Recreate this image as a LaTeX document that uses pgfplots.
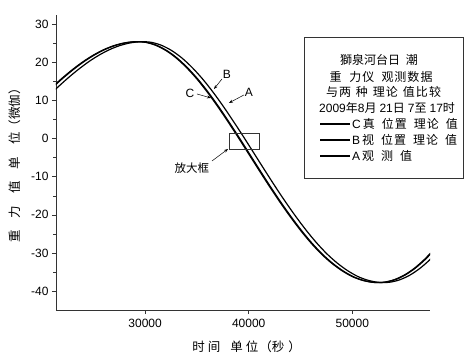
\documentclass[border=0pt]{standalone}
\usepackage{fontspec}
\setmainfont{Liberation Sans}
\newfontfamily\cjk{Noto Sans CJK SC}
\usepackage{pgfplots}
\usepackage{pgfplotstable}
\pgfplotsset{compat=1.18}
\usetikzlibrary{calc,arrows.meta}

% C: true-position theory, B: apparent-position theory, A: observed
\pgfplotstableread{
t y
20000 10.92
21000 13.48
22000 15.93
23000 18.18
24000 20.21
25000 21.95
26000 23.38
27000 24.46
28000 25.16
29000 25.48
30000 25.34
31000 24.57
32000 23.18
33000 21.21
34000 18.68
35000 15.69
36000 12.26
37000 8.49
38000 4.46
39000 0.29
40000 -4.00
41000 -8.29
42000 -12.52
43000 -16.59
44000 -20.45
45000 -24.06
46000 -27.35
47000 -30.25
48000 -32.68
49000 -34.67
50000 -36.22
51000 -37.22
52000 -37.74
53000 -37.72
54000 -37.09
55000 -35.85
56000 -34.01
57000 -31.62
58000 -28.72
}\tabC

\pgfplotstableread{
t y
20080 10.92
21080 13.48
22080 15.93
23080 18.18
24080 20.21
25080 21.95
26080 23.38
27080 24.46
28080 25.16
29080 25.48
30080 25.34
31080 24.57
32080 23.18
33080 21.21
34080 18.68
35080 15.69
36080 12.26
37080 8.49
38080 4.46
39080 0.29
40080 -4.00
41080 -8.29
42080 -12.52
43080 -16.59
44080 -20.45
45080 -24.06
46080 -27.35
47080 -30.25
48080 -32.68
49080 -34.67
50080 -36.22
51080 -37.22
52080 -37.74
53080 -37.72
54080 -37.09
55080 -35.85
56080 -34.01
57080 -31.62
58080 -28.72
}\tabB

\pgfplotstableread{
t y
20550 10.92
21550 13.48
22550 15.93
23550 18.18
24550 20.21
25550 21.95
26550 23.38
27550 24.46
28550 25.16
29550 25.48
30550 25.34
31550 24.57
32550 23.18
33550 21.21
34550 18.68
35550 15.69
36550 12.26
37550 8.49
38550 4.46
39550 0.29
40550 -4.00
41550 -8.29
42550 -12.52
43550 -16.59
44550 -20.45
45550 -24.06
46550 -27.35
47550 -30.25
48550 -32.68
49550 -34.67
50550 -36.22
51550 -37.22
52550 -37.74
53550 -37.72
54550 -37.09
55550 -35.85
56550 -34.01
57550 -31.62
58550 -28.72
}\tabA

\begin{document}
\begin{tikzpicture}
\begin{axis}[
    scale only axis,
    width=374pt,
    height=295pt,
    xmin=21400, xmax=57500,
    ymin=-45, ymax=32.5,
    axis x line*=bottom,
    axis y line*=left,
    axis line style={draw=black!80, line width=0.8pt},
    xtick={30000,40000,50000},
    ytick={-40,-30,...,30},
    minor y tick num=1,
    scaled x ticks=false,
    xticklabel style={/pgf/number format/set thousands separator={}, yshift=-2pt},
    tick align=outside,
    major tick length=4pt,
    minor tick length=2.5pt,
    tick style={draw=black!80, line width=0.6pt},
    tick label style={font=\fontsize{12}{14}\selectfont},
    /pgf/number format/assume math mode=true,
    xlabel={\cjk 时\hspace{3pt}间\hspace{10pt}单\hspace{3pt}位\hspace{1pt}（秒\hspace{4pt}）},
    ylabel={\cjk 重\hspace{12pt}力\hspace{12pt}值\hspace{12pt}单\hspace{12pt}位（微伽）},
    xlabel style={at={(axis description cs:0.51,0)}, anchor=center, yshift=-37pt, font=\fontsize{12.5}{14}\selectfont},
    ylabel style={at={(axis description cs:-0.1096,0.5)}, anchor=center, font=\fontsize{12.5}{14}\selectfont},
    clip mode=individual,
]
\addplot[black, line width=1.2pt, smooth] table {\tabC};
\addplot[black, line width=1.2pt, smooth] table {\tabB};
\addplot[black, line width=1.2pt, smooth] table {\tabA};

% labels with arrows
\node[font=\fontsize{12}{14}\selectfont] at (axis cs:34334,12.0) {C};
\draw[-{Stealth[length=4pt,width=3pt]}, line width=0.5pt] (axis cs:35009,11.75) -- (axis cs:36361,10.7);
\node[font=\fontsize{12}{14}\selectfont] at (axis cs:37905,17.0) {B};
\draw[-{Stealth[length=4pt,width=3pt]}, line width=0.5pt] (axis cs:37423,15.7) -- (axis cs:36650,13.07);
\node[font=\fontsize{12}{14}\selectfont] at (axis cs:40028,12.28) {A};
\draw[-{Stealth[length=4pt,width=3pt]}, line width=0.5pt] (axis cs:39546,11.5) -- (axis cs:38098,9.4);

% magnifier box
\draw[line width=0.6pt, black!80] (axis cs:38098,1.5) rectangle (axis cs:40994,-2.7);
\node[font=\cjk\fontsize{11.5}{14}\selectfont] at (axis cs:34527,-7.7) {放大框};
\draw[-{Stealth[length=4pt,width=3pt]}, line width=0.5pt] (axis cs:36457,-5.85) -- (axis cs:38001,-2.7);
\end{axis}

% legend box, in pixel units of the reference
\begin{scope}[shift={($(current axis.south west)+(-56pt,310pt)$)}, x=1pt, y=-1pt,
    every node/.style={font=\fontsize{12}{14}\selectfont, inner sep=0pt}]
\path (0,0) rectangle (471,361);
\draw[line width=0.6pt, black!80] (304,37) rectangle (463,178);
\node at (379,60) {\cjk 獅泉河台日\hspace{6pt}潮};
\node at (381,77) {\cjk 重\hspace{8pt}力\hspace{1pt}仪\hspace{7pt}观\hspace{1pt}测\hspace{1pt}数\hspace{1pt}据};
\node at (383.5,92) {\cjk 与\hspace{1pt}两\hspace{5pt}种\hspace{5pt}理\hspace{1pt}论\hspace{5pt}值\hspace{1pt}比\hspace{1pt}较};
\node[anchor=west] at (319,108) {2009{\cjk 年}8{\cjk 月}\hspace{3pt}21{\cjk 日}\hspace{3pt}7{\cjk 至}\hspace{3pt}17{\cjk 时}};
\draw[line width=1.3pt] (320,124) -- (350,124);
\node[anchor=west] at (352,124) {C\hspace{2pt}{\cjk 真\hspace{7pt}位\hspace{1pt}置\hspace{7pt}理\hspace{1pt}论\hspace{7pt}值}};
\draw[line width=1.3pt] (320,140) -- (350,140);
\node[anchor=west] at (352,140) {B\hspace{2pt}{\cjk 视\hspace{7pt}位\hspace{1pt}置\hspace{7pt}理\hspace{1pt}论\hspace{7pt}值}};
\draw[line width=1.3pt] (320,156) -- (350,156);
\node[anchor=west] at (352,156) {A\hspace{2pt}{\cjk 观\hspace{7pt}测\hspace{7pt}值}};
\end{scope}
\end{tikzpicture}
\end{document}
